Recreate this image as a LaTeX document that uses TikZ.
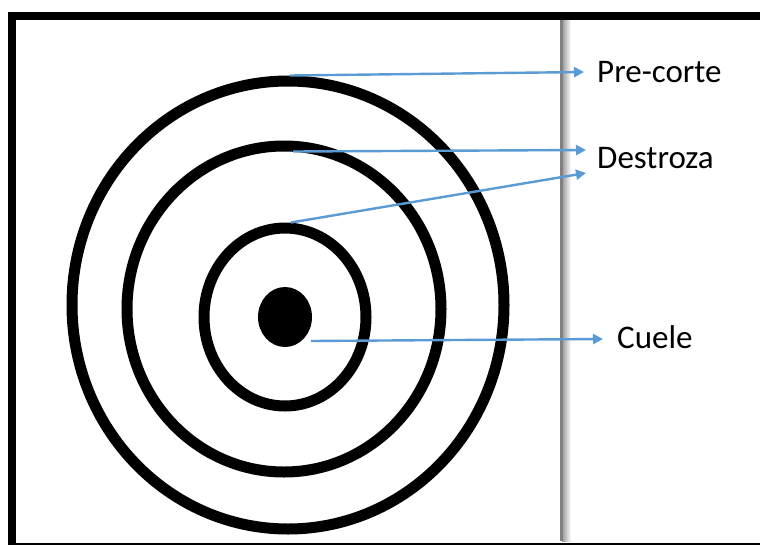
\documentclass[tikz,border=0pt]{standalone}
\usepackage{fontspec}
\setmainfont{Carlito}
\usetikzlibrary{shapes.geometric,arrows.meta,positioning}

\definecolor{arrowblue}{HTML}{5B9BD5}

\tikzset{
  ring/.style={ellipse, draw, line width=11pt, inner sep=0pt},
  pointer/.style={arrowblue, line width=2.4pt, -{Triangle[length=10pt,width=10pt]}},
  lbl/.style={anchor=base west, inner sep=0pt, font=\fontsize{33pt}{36pt}\selectfont}
}

\begin{document}
\begin{tikzpicture}[x=1pt, y=-1pt]
  \useasboundingbox (0,0) rectangle (760,544);
  \clip (0,0) rectangle (760,544);
  \fill[white] (0,0) rectangle (760,544);

  % frame and divider
  \draw[line width=8pt] (12,16) rectangle (800,547);
  \shade[left color=black!40, right color=white] (562,20) rectangle (571,541);
  \draw[black!50, line width=3pt] (561,20) -- (561,541);

  % rings
  \node[ring, minimum width=432pt, minimum height=448pt] (outer) at (288,305) {};
  \node[ring, minimum width=314pt, minimum height=326pt] (middle) at (284,309) {};
  \node[ring, minimum width=162pt, minimum height=178pt] (inner) at (285,317) {};
  \node[ellipse, fill, inner sep=0pt, minimum width=54pt, minimum height=60pt] (core) at (285,317) {};

  % labels
  \node[lbl] (precorte) at (597,82) {Pre-corte};
  \node[lbl] (destroza) at (597,168) {Destroza};
  \node[lbl] (cuele) at (617,348) {Cuele};

  % arrow tips
  \coordinate (t1) at (584,72);
  \coordinate (t2) at (586,150);
  \coordinate (t3) at (586,173);
  \coordinate (t4) at (603,339);
  \coordinate (s4) at (311,341);

  \draw[pointer] ([xshift=2pt]outer.north) -- (t1);
  \draw[pointer] ([xshift=9pt, yshift=-11pt]middle.north) -- (t2);
  \draw[pointer] ([xshift=6pt]inner.north) -- (t3);
  \draw[pointer] (s4) -- (t4);
\end{tikzpicture}
\end{document}
